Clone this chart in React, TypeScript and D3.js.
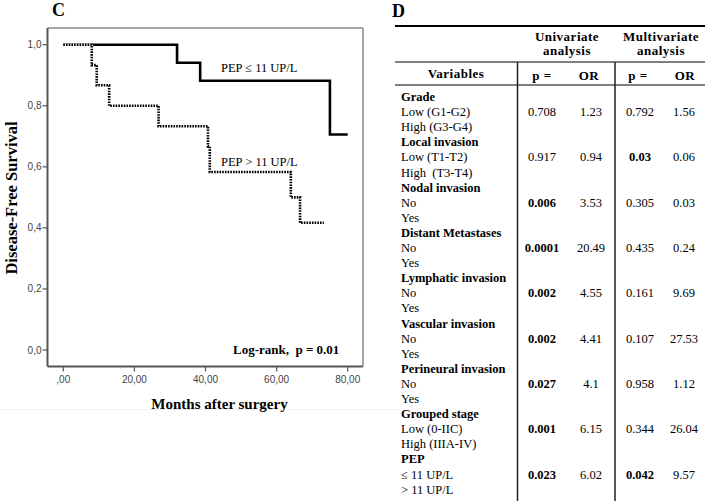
import React from "react";
import * as d3 from "d3";

// ---- Kaplan-Meier data (months, survival) ----
const lowPEP: [number, number][] = [
  [0, 1], [32, 0.941], [38.5, 0.882], [75, 0.706], [80, 0.706],
];
const highPEP: [number, number][] = [
  [0, 1], [8, 0.933], [9.4, 0.867], [12.9, 0.8], [26.8, 0.733],
  [40.7, 0.667], [41.2, 0.583], [64, 0.5], [66.6, 0.417], [73.3, 0.417],
];
const xTicks = [0, 20, 40, 60, 80];
const xTickLabels = [",00", "20,00", "40,00", "60,00", "80,00"];
const yTicks = [0, 0.2, 0.4, 0.6, 0.8, 1.0];
const yTickLabels = ["0,0", "0,2", "0,4", "0,6", "0,8", "1,0"];

// ---- Table data ----
const groups = [
  "Grade", "Local invasion", "Nodal invasion", "Distant Metastases",
  "Lymphatic invasion", "Vascular invasion", "Perineural invasion",
  "Grouped stage", "PEP",
];
const subLabels = [
  ["Low (G1-G2)", "High (G3-G4)"],
  ["Low (T1-T2)", "High  (T3-T4)"],
  ["No", "Yes"],
  ["No", "Yes"],
  ["No", "Yes"],
  ["No", "Yes"],
  ["No", "Yes"],
  ["Low (0-IIC)", "High (IIIA-IV)"],
  ["≤ 11 UP/L", "> 11 UP/L"],
];
const uniP = ["0.708", "0.917", "0.006", "0.0001", "0.002", "0.002", "0.027", "0.001", "0.023"];
const uniOR = ["1.23", "0.94", "3.53", "20.49", "4.55", "4.41", "4.1", "6.15", "6.02"];
const multiP = ["0.792", "0.03", "0.305", "0.435", "0.161", "0.107", "0.958", "0.344", "0.042"];
const multiOR = ["1.56", "0.06", "0.03", "0.24", "9.69", "27.53", "1.12", "26.04", "9.57"];
const uniBold = [false, false, true, true, true, true, true, true, true];
const multiBold = [false, true, false, false, false, false, false, false, true];

const SERIF = "'Liberation Serif', 'Times New Roman', serif";
const SANS = "'Liberation Sans', Arial, sans-serif";

export default function App() {
  const x = d3.scaleLinear().domain([0, 80]).range([63.3, 347.7]);
  const y = d3.scaleLinear().domain([0, 1]).range([350, 44.7]);
  const line = d3
    .line<[number, number]>()
    .x((d) => x(d[0]))
    .y((d) => y(d[1]))
    .curve(d3.curveStepAfter);

  const frameL = 47.5, frameR = 363, frameT = 28, frameB = 366.5;

  // table geometry
  const rowY = d3.scaleLinear().domain([0, 1]).range([101, 116.1]);
  const colP1 = 542, colOR1 = 591, colP2 = 640, colOR2 = 684;
  const vLine1 = 517.5, vLine2 = 615;
  const tL = 395, tR = 705;
  const fs = 12.5;

  return (
    <div style={{ position: "absolute", left: 0, top: 0 }}>
      <svg width={710} height={501} style={{ display: "block", background: "#fff" }}>
        {/* ---------- Panel C ---------- */}
        <text x={52} y={16} fontFamily={SERIF} fontWeight="bold" fontSize={18}>C</text>
        <line x1={0} x2={400} y1={409.5} y2={409.5} stroke="#f0f0f0" strokeWidth={1} />
        {/* frame */}
        <line x1={frameL} x2={frameR} y1={frameT} y2={frameT} stroke="#8a8a8a" strokeWidth={1.5} />
        <line x1={frameR} x2={frameR} y1={frameT} y2={frameB} stroke="#8a8a8a" strokeWidth={1.5} />
        <line x1={frameL} x2={frameL} y1={frameT} y2={frameB} stroke="#555" strokeWidth={2} />
        <line x1={frameL} x2={frameR} y1={frameB} y2={frameB} stroke="#555" strokeWidth={2} />
        {/* y ticks */}
        {yTicks.map((t, i) => (
          <g key={"yt" + i}>
            <line x1={frameL - 5} x2={frameL} y1={y(t)} y2={y(t)} stroke="#555" strokeWidth={1.2} />
            <text x={frameL - 6} y={y(t) + 3.5} textAnchor="end" fontFamily={SANS} fontSize={10} fill="#444">
              {yTickLabels[i]}
            </text>
          </g>
        ))}
        {/* x ticks */}
        {xTicks.map((t, i) => (
          <g key={"xt" + i}>
            <line x1={x(t)} x2={x(t)} y1={frameB} y2={frameB + 5} stroke="#555" strokeWidth={1.2} />
            <text x={x(t)} y={frameB + 16} textAnchor="middle" fontFamily={SANS} fontSize={10} fill="#444">
              {xTickLabels[i]}
            </text>
          </g>
        ))}
        {/* curves */}
        <path d={line(lowPEP) || ""} fill="none" stroke="#000" strokeWidth={2.6} />
        <path d={line(highPEP) || ""} fill="none" stroke="#fff" strokeWidth={2.6} />
        <path d={line(highPEP) || ""} fill="none" stroke="#000" strokeWidth={2.6} strokeDasharray="1.6 1.1" />
        {/* annotations */}
        <text x={221} y={72} fontFamily={SERIF} fontSize={12.5}>PEP ≤ 11 UP/L</text>
        <text x={221} y={166} fontFamily={SERIF} fontSize={12.5}>PEP &gt; 11 UP/L</text>
        <text x={233} y={354} fontFamily={SERIF} fontSize={13} fontWeight="bold" style={{ whiteSpace: "pre" }}>
          {"Log-rank,  p = 0.01"}
        </text>
        <text x={219.5} y={409} textAnchor="middle" fontFamily={SERIF} fontSize={15} fontWeight="bold">
          Months after surgery
        </text>
        <text
          transform={`translate(17,198) rotate(-90)`}
          textAnchor="middle"
          fontFamily={SERIF}
          fontSize={16.5}
          fontWeight="bold"
        >
          Disease-Free Survival
        </text>

        {/* ---------- Panel D ---------- */}
        <text x={392} y={17} fontFamily={SERIF} fontWeight="bold" fontSize={18}>D</text>
        <line x1={tL} x2={tR} y1={26} y2={26} stroke="#000" strokeWidth={2} />
        <line x1={tL} x2={tR} y1={62} y2={62} stroke="#000" strokeWidth={1} />
        <line x1={tL} x2={tR} y1={85} y2={85} stroke="#000" strokeWidth={1.2} />
        <line x1={vLine1} x2={vLine1} y1={62} y2={501} stroke="#222" strokeWidth={1.5} />
        <line x1={vLine2} x2={vLine2} y1={62} y2={501} stroke="#222" strokeWidth={1.5} />

        <g fontFamily={SERIF} fontWeight="bold" fontSize={13} textAnchor="middle" letterSpacing={0.5}>
          <text x={567} y={41}>Univariate</text>
          <text x={567} y={55}>analysis</text>
          <text x={661} y={41}>Multivariate</text>
          <text x={661} y={55}>analysis</text>
          <text x={456} y={78}>Variables</text>
          <text x={colP1} y={80}>p =</text>
          <text x={colOR1 - 2} y={80}>OR</text>
          <text x={colP2 - 2} y={80}>p =</text>
          <text x={colOR2 + 1} y={80}>OR</text>
        </g>

        <g fontFamily={SERIF} fontSize={fs}>
          {groups.map((g, gi) => {
            const r0 = gi * 3;
            return (
              <g key={"g" + gi}>
                <text x={401} y={rowY(r0)} fontWeight="bold">{g}</text>
                <text x={401} y={rowY(r0 + 1)} style={{ whiteSpace: "pre" }}>{subLabels[gi][0]}</text>
                <text x={401} y={rowY(r0 + 2)} style={{ whiteSpace: "pre" }}>{subLabels[gi][1]}</text>
                <text x={colP1} y={rowY(r0 + 1)} textAnchor="middle" fontWeight={uniBold[gi] ? "bold" : "normal"}>
                  {uniP[gi]}
                </text>
                <text x={colOR1} y={rowY(r0 + 1)} textAnchor="middle">{uniOR[gi]}</text>
                <text x={colP2} y={rowY(r0 + 1)} textAnchor="middle" fontWeight={multiBold[gi] ? "bold" : "normal"}>
                  {multiP[gi]}
                </text>
                <text x={colOR2} y={rowY(r0 + 1)} textAnchor="middle">{multiOR[gi]}</text>
              </g>
            );
          })}
        </g>
      </svg>
    </div>
  );
}
